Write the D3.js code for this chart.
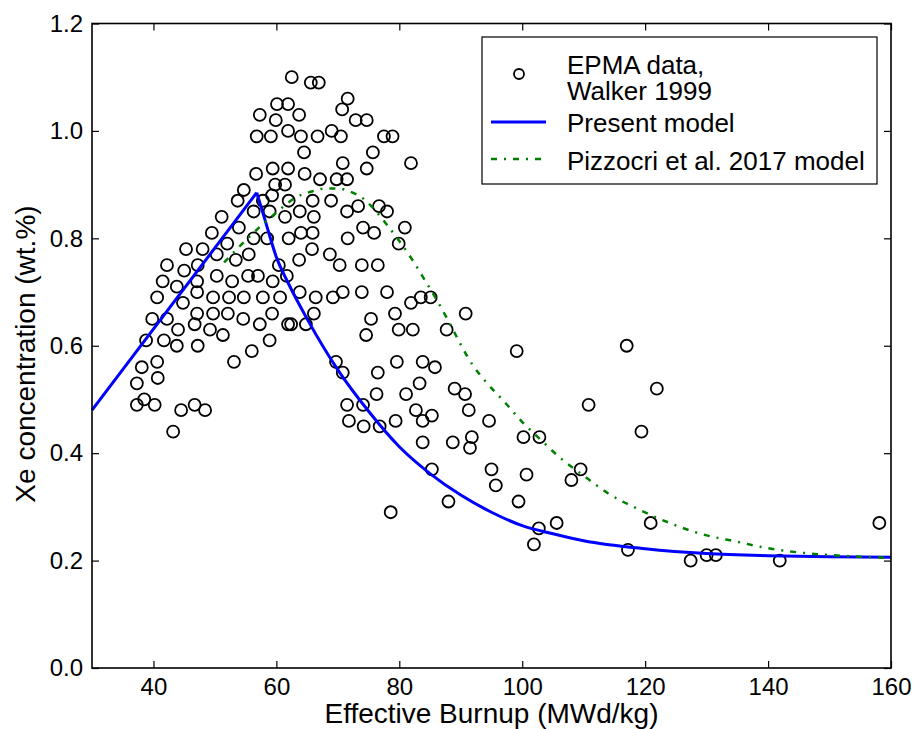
<!DOCTYPE html>
<html>
<head>
<meta charset="utf-8">
<script src="https://d3js.org/d3.v7.min.js"></script>
<style>
	body { margin: 0; background: #fff; }
	svg { font-family: "Liberation Sans", Arial, Helvetica, sans-serif; }
	.tick text { font-size: 24px; fill: #000; }
	.tick line { stroke: #000; stroke-width: 1.2px; }
	.dot { fill: none; stroke: #000; stroke-width: 1.8px; }
</style>
</head>
<body>
<svg id="chart" width="914" height="729"></svg>
<script>
// EPMA data, Walker 1999
var epmaBurnup = [
	62.5, 65.6, 66.9, 60.1, 61.9, 57.3, 59.9, 63.7, 56.8, 59.1,
	61.9, 64.0, 66.7, 64.5, 56.7, 59.4, 61.9, 64.6, 67.1, 59.8,
	61.4, 54.7, 59.3, 53.7, 57.8, 62.0, 56.3, 58.9, 61.4, 51.1,
	53.9, 49.5, 56.3, 58.5, 62.0, 52.0, 45.3, 48.0, 50.3, 53.4,
	55.5, 42.2, 45.0, 47.2, 60.4, 41.5, 47.1, 50.3, 52.8, 55.4,
	57.0, 59.4, 61.7, 43.8, 47.1, 40.6, 44.8, 49.7, 52.3, 54.7,
	57.8, 60.6, 39.8, 42.2, 47.1, 49.7, 52.1, 54.6, 59.3, 57.3,
	46.7, 44.0, 49.2, 51.3, 38.8, 41.7, 43.8, 47.2, 58.9, 56.0,
	61.9, 38.1, 40.6, 53.1, 37.3, 40.7, 37.3, 38.5, 40.2, 44.5,
	46.7, 48.4, 43.2, 71.6, 70.7, 72.9, 74.7, 69.0, 70.5, 77.5,
	78.9, 75.7, 70.8, 74.7, 81.9, 69.8, 71.5, 65.9, 68.9, 63.8,
	66.1, 71.5, 73.3, 76.7, 78.0, 64.0, 65.9, 74.1, 75.9, 80.9,
	71.6, 79.9, 65.8, 68.7, 63.7, 70.3, 73.9, 76.5, 63.8, 66.4,
	69.2, 70.8, 73.9, 78.0, 81.9, 83.5, 85.1, 66.1, 79.3, 90.8,
	62.4, 64.8, 75.4, 74.6, 79.9, 82.2, 87.7, 69.7, 70.8, 76.5,
	79.6, 83.8, 85.8, 83.3, 89.0, 90.7, 76.3, 81.1, 71.5, 74.1,
	82.7, 85.3, 91.3, 71.8, 74.2, 76.8, 79.4, 83.8, 83.8, 88.7,
	91.8, 91.5, 85.3, 95.0, 88.0, 78.6, 99.1, 117.0, 121.9, 110.8,
	119.4, 94.6, 100.2, 102.8, 95.7, 100.7, 99.4, 109.5, 108.0, 105.6,
	102.7, 101.9, 120.9, 117.2, 127.4, 130.0, 131.5, 141.9, 158.1
];
var epmaXe = [
	1.10, 1.09, 1.09, 1.05, 1.05, 1.03, 1.02, 1.03, 0.99, 0.99,
	1.00, 0.99, 0.99, 0.96, 0.92, 0.93, 0.93, 0.92, 0.91, 0.90,
	0.90, 0.89, 0.88, 0.87, 0.87, 0.87, 0.85, 0.85, 0.84, 0.84,
	0.82, 0.81, 0.80, 0.80, 0.80, 0.79, 0.78, 0.78, 0.77, 0.76,
	0.77, 0.75, 0.74, 0.75, 0.75, 0.72, 0.72, 0.73, 0.72, 0.73,
	0.73, 0.72, 0.73, 0.71, 0.70, 0.69, 0.68, 0.69, 0.69, 0.69,
	0.69, 0.69, 0.65, 0.65, 0.66, 0.66, 0.66, 0.65, 0.66, 0.64,
	0.64, 0.63, 0.63, 0.62, 0.61, 0.61, 0.60, 0.60, 0.61, 0.59,
	0.64, 0.56, 0.57, 0.57, 0.53, 0.54, 0.49, 0.50, 0.49, 0.48,
	0.49, 0.48, 0.44, 1.06, 1.04, 1.02, 1.02, 1.00, 0.99, 0.99,
	0.99, 0.96, 0.94, 0.93, 0.94, 0.91, 0.91, 0.87, 0.87, 0.85,
	0.84, 0.85, 0.86, 0.86, 0.85, 0.81, 0.81, 0.82, 0.81, 0.82,
	0.80, 0.79, 0.78, 0.77, 0.76, 0.75, 0.75, 0.75, 0.70, 0.69,
	0.69, 0.70, 0.70, 0.70, 0.68, 0.69, 0.69, 0.66, 0.66, 0.66,
	0.64, 0.64, 0.65, 0.62, 0.63, 0.63, 0.63, 0.57, 0.55, 0.55,
	0.57, 0.57, 0.56, 0.53, 0.52, 0.51, 0.51, 0.51, 0.49, 0.49,
	0.48, 0.47, 0.48, 0.46, 0.45, 0.45, 0.46, 0.46, 0.42, 0.42,
	0.43, 0.41, 0.37, 0.37, 0.31, 0.29, 0.59, 0.60, 0.52, 0.49,
	0.44, 0.46, 0.43, 0.43, 0.34, 0.36, 0.31, 0.37, 0.35, 0.27,
	0.26, 0.23, 0.27, 0.22, 0.20, 0.21, 0.21, 0.20, 0.27
];

// Present model curve
var presentBurnup = [30, 56.8, 58, 60, 62, 65, 70, 75, 80, 85, 90, 95, 100, 105, 110, 120, 130, 140, 150, 160];
var presentXe = [0.48, 0.885, 0.840, 0.765, 0.715, 0.650, 0.555, 0.478, 0.412, 0.362, 0.322, 0.290, 0.265, 0.250, 0.237, 0.222, 0.213, 0.209, 0.207, 0.206];

// Pizzocri et al. 2017 model curve
var pizzocriBurnup = [51.5, 54, 57, 60, 63, 66, 68, 70, 72, 74, 76, 78, 80, 82, 84, 86, 88, 90, 92, 94, 97, 100, 103, 106, 110, 114, 119, 124, 129, 135, 140, 146, 152, 160];
var pizzocriXe = [0.755, 0.785, 0.818, 0.848, 0.875, 0.888, 0.893, 0.893, 0.887, 0.875, 0.853, 0.825, 0.795, 0.762, 0.725, 0.687, 0.646, 0.602, 0.563, 0.534, 0.497, 0.458, 0.425, 0.393, 0.358, 0.325, 0.295, 0.270, 0.250, 0.235, 0.223, 0.214, 0.209, 0.205];

var xTicks = [40, 60, 80, 100, 120, 140, 160];
var yTicks = [0.0, 0.2, 0.4, 0.6, 0.8, 1.0, 1.2];

var svg = d3.select("#chart");
var plotL = 92, plotR = 891, plotT = 23.5, plotB = 668;

var x = d3.scaleLinear().domain([30, 160]).range([plotL, plotR]);
var y = d3.scaleLinear().domain([0, 1.2]).range([plotB, plotT]);

// axes, ticks pointing inward on all four sides
svg.append("g")
	.attr("transform", "translate(0," + plotB + ")")
	.call(d3.axisBottom(x).tickValues(xTicks).tickSize(-7).tickPadding(10))
	.call(function(g) { g.select(".domain").remove(); });

svg.append("g")
	.attr("transform", "translate(" + plotL + ",0)")
	.call(d3.axisLeft(y).tickValues(yTicks).tickSize(-7).tickPadding(9).tickFormat(d3.format(".1f")))
	.call(function(g) { g.select(".domain").remove(); });

svg.append("g")
	.attr("transform", "translate(0," + plotT + ")")
	.call(d3.axisTop(x).tickValues(xTicks).tickSize(-7).tickFormat(""))
	.call(function(g) { g.select(".domain").remove(); });

svg.append("g")
	.attr("transform", "translate(" + plotR + ",0)")
	.call(d3.axisRight(y).tickValues(yTicks).tickSize(-7).tickFormat(""))
	.call(function(g) { g.select(".domain").remove(); });

svg.selectAll("g[font-family]").attr("font-family", null);

// scatter
var points = epmaBurnup.map(function(d, i) { return [d, epmaXe[i]]; });
svg.append("g").selectAll("circle")
	.data(points)
	.enter().append("circle")
	.attr("class", "dot")
	.attr("cx", function(d) { return x(d[0]); })
	.attr("cy", function(d) { return y(d[1]); })
	.attr("r", 6);

// model lines
var line = d3.line()
	.x(function(d) { return x(d[0]); })
	.y(function(d) { return y(d[1]); });

var present = presentBurnup.map(function(d, i) { return [d, presentXe[i]]; });
svg.append("path")
	.datum(present.slice(0, 2))
	.attr("d", line)
	.attr("fill", "none").attr("stroke", "#0000ff").attr("stroke-width", 3);
svg.append("path")
	.datum(present.slice(1))
	.attr("d", line.curve(d3.curveMonotoneX))
	.attr("fill", "none").attr("stroke", "#0000ff").attr("stroke-width", 3);

var pizz = pizzocriBurnup.map(function(d, i) { return [d, pizzocriXe[i]]; });
svg.append("path")
	.datum(pizz)
	.attr("d", line.curve(d3.curveMonotoneX))
	.attr("fill", "none").attr("stroke", "#008000").attr("stroke-width", 2.5)
	.attr("stroke-dasharray", "6,7,2,7");

// frame
svg.append("rect")
	.attr("x", plotL).attr("y", plotT)
	.attr("width", plotR - plotL).attr("height", plotB - plotT)
	.attr("fill", "none").attr("stroke", "#000").attr("stroke-width", 1.6);

// axis labels
svg.append("text")
	.attr("x", (plotL + plotR) / 2).attr("y", 723)
	.attr("text-anchor", "middle")
	.style("font-size", "28px")
	.text("Effective Burnup (MWd/kg)");

svg.append("text")
	.attr("transform", "translate(35,354) rotate(-90)")
	.attr("text-anchor", "middle")
	.style("font-size", "28px")
	.text("Xe concentration (wt.%)");

// legend
var lg = svg.append("g");
lg.append("rect")
	.attr("x", 482).attr("y", 37).attr("width", 395).attr("height", 147)
	.attr("fill", "#fff").attr("stroke", "#000").attr("stroke-width", 1.2);
lg.append("circle").attr("class", "dot").attr("cx", 519).attr("cy", 74).attr("r", 5);
lg.append("line").attr("x1", 491).attr("x2", 546).attr("y1", 122).attr("y2", 122)
	.attr("stroke", "#0000ff").attr("stroke-width", 3);
lg.append("line").attr("x1", 491).attr("x2", 546).attr("y1", 159).attr("y2", 159)
	.attr("stroke", "#008000").attr("stroke-width", 2.5).attr("stroke-dasharray", "6,7,2,7");

var legendText = [["EPMA data,", 74], ["Walker 1999", 100], ["Present model", 132], ["Pizzocri et al. 2017 model", 170]];
lg.selectAll("text.lt")
	.data(legendText)
	.enter().append("text")
	.attr("class", "lt")
	.attr("x", 567)
	.attr("y", function(d) { return d[1]; })
	.style("font-size", "26px")
	.text(function(d) { return d[0]; });
</script>
</body>
</html>
